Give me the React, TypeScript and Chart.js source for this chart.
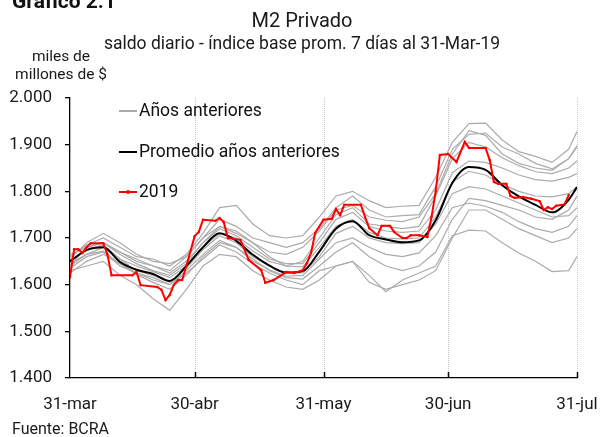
import { useEffect, useRef } from 'react';
import { Chart, registerables } from 'chart.js';

Chart.register(...registerables);

// ---- Data ----
const xTickDays = [0, 30, 61, 91, 122];
const xTickLabels = ['31-mar', '30-abr', '31-may', '30-jun', '31-jul'];
const yMin = 1400;
const yMax = 2000;
const yStep = 100;

// day offsets from 31-mar for the previous-years series and their average
const sampleDays = [0, 4, 8, 12, 16, 20, 24, 28, 32, 36, 40, 44, 48, 52, 56, 60, 64, 68, 72, 76, 80, 84, 88, 92, 96, 100, 104, 108, 112, 116, 120, 122];

const avgValues = [1650, 1674, 1680, 1649, 1632, 1623, 1608, 1640, 1680, 1710, 1694, 1664, 1641, 1626, 1629, 1671, 1720, 1736, 1706, 1697, 1691, 1695, 1738, 1818, 1852, 1846, 1813, 1789, 1771, 1755, 1782, 1809];

const prev1 = [1660, 1685, 1700, 1680, 1660, 1655, 1640, 1665, 1710, 1765, 1770, 1730, 1705, 1700, 1705, 1745, 1790, 1800, 1780, 1765, 1768, 1770, 1830, 1905, 1945, 1946, 1910, 1885, 1875, 1862, 1890, 1928];
const prev2 = [1655, 1690, 1710, 1690, 1665, 1650, 1645, 1660, 1700, 1740, 1725, 1700, 1690, 1680, 1690, 1720, 1765, 1790, 1760, 1745, 1748, 1750, 1810, 1890, 1922, 1925, 1895, 1880, 1860, 1848, 1870, 1898];
const prev3 = [1640, 1680, 1690, 1670, 1655, 1640, 1625, 1650, 1690, 1725, 1715, 1690, 1660, 1640, 1650, 1700, 1750, 1765, 1730, 1725, 1720, 1725, 1790, 1870, 1905, 1895, 1872, 1855, 1842, 1838, 1850, 1865];
const prev4 = [1665, 1680, 1690, 1665, 1645, 1630, 1620, 1645, 1690, 1720, 1705, 1680, 1655, 1645, 1645, 1690, 1740, 1755, 1725, 1715, 1712, 1715, 1760, 1840, 1865, 1862, 1850, 1835, 1825, 1822, 1830, 1838];
const prev5 = [1650, 1675, 1685, 1655, 1640, 1628, 1615, 1640, 1680, 1710, 1700, 1672, 1650, 1640, 1638, 1680, 1725, 1740, 1712, 1700, 1698, 1700, 1745, 1820, 1843, 1835, 1815, 1800, 1790, 1788, 1795, 1810];
const prev6 = [1645, 1665, 1680, 1655, 1630, 1620, 1605, 1635, 1675, 1705, 1690, 1660, 1640, 1625, 1625, 1660, 1710, 1725, 1700, 1690, 1688, 1690, 1730, 1795, 1810, 1805, 1790, 1775, 1760, 1745, 1748, 1765];
const prev7 = [1635, 1660, 1670, 1640, 1625, 1615, 1600, 1630, 1665, 1695, 1680, 1650, 1632, 1618, 1620, 1655, 1690, 1700, 1680, 1665, 1660, 1668, 1705, 1765, 1775, 1768, 1755, 1735, 1720, 1712, 1725, 1748];
const prev8 = [1625, 1650, 1665, 1645, 1625, 1610, 1600, 1625, 1655, 1685, 1670, 1645, 1625, 1610, 1600, 1630, 1640, 1650, 1620, 1585, 1610, 1625, 1640, 1705, 1717, 1715, 1690, 1668, 1650, 1628, 1630, 1660];
const prev9 = [1630, 1640, 1650, 1620, 1600, 1570, 1545, 1590, 1640, 1665, 1660, 1630, 1610, 1595, 1590, 1610, 1640, 1650, 1605, 1590, 1600, 1610, 1630, 1700, 1760, 1760, 1740, 1720, 1705, 1690, 1700, 1720];
const prev10 = [1660, 1685, 1690, 1670, 1650, 1640, 1630, 1660, 1700, 1725, 1710, 1690, 1670, 1665, 1680, 1715, 1760, 1770, 1745, 1738, 1735, 1745, 1795, 1880, 1930, 1920, 1880, 1860, 1850, 1845, 1870, 1895];
const prev11 = [1640, 1665, 1672, 1645, 1622, 1605, 1590, 1620, 1660, 1690, 1680, 1655, 1630, 1615, 1612, 1640, 1670, 1690, 1660, 1640, 1630, 1640, 1670, 1740, 1785, 1780, 1770, 1760, 1745, 1740, 1760, 1790];

const prevYears = [prev1, prev2, prev3, prev4, prev5, prev6, prev7, prev8, prev9, prev10, prev11];

const redDays = [0, 1, 2, 3, 4, 5, 8, 9, 10, 15, 16, 17, 21, 22, 23, 24, 25, 26, 27, 28, 30, 31, 32, 35, 36, 37, 38, 41, 43, 46, 47, 49, 52, 54, 56, 57, 58, 59, 61, 63, 64, 65, 66, 70, 71, 72, 74, 75, 77, 78, 80, 81, 82, 84, 86, 87, 88, 89, 91, 93, 95, 96, 100, 101, 102, 103, 105, 106, 107, 109, 111, 113, 114, 115, 116, 117, 119, 120];
const redValues = [1616, 1676, 1676, 1668, 1680, 1689, 1689, 1665, 1620, 1620, 1627, 1599, 1595, 1589, 1567, 1578, 1600, 1610, 1610, 1640, 1704, 1713, 1739, 1737, 1743, 1734, 1700, 1696, 1653, 1631, 1604, 1610, 1627, 1625, 1631, 1646, 1668, 1711, 1739, 1741, 1762, 1749, 1771, 1771, 1745, 1721, 1706, 1726, 1726, 1713, 1700, 1700, 1706, 1706, 1702, 1745, 1800, 1878, 1880, 1863, 1906, 1893, 1893, 1867, 1820, 1816, 1816, 1790, 1786, 1788, 1784, 1779, 1760, 1766, 1762, 1769, 1772, 1792];

// ---- Styling ----
const GRAY = '#ababab';
const BLACK = '#000000';
const RED = '#ff0000';
const FONT = 'Roboto, "Noto Sans", sans-serif';

const pair = (days: number[], vals: number[]) => days.map((d, i) => ({ x: d, y: vals[i] }));

const fmt = (v: number) => {
  const n = Math.round(v);
  const th = Math.floor(n / 1000);
  const rest = String(n % 1000).padStart(3, '0');
  return `${th}.${rest}`;
};

const decorPlugin = {
  id: 'decor',
  beforeDatasetsDraw(chart: any) {
    const { ctx, chartArea, scales } = chart;
    const xs = scales.x;
    ctx.save();
    ctx.strokeStyle = '#c4c4c4';
    ctx.lineWidth = 1;
    ctx.setLineDash([1, 1]);
    xTickDays.forEach((d) => {
      if (d === 0) return;
      const px = Math.round(xs.getPixelForValue(d)) + 0.5;
      ctx.beginPath();
      ctx.moveTo(px, chartArea.top);
      ctx.lineTo(px, chartArea.bottom);
      ctx.stroke();
    });
    ctx.restore();
  },
  afterDraw(chart: any) {
    const { ctx, chartArea, scales } = chart;
    const xs = scales.x;
    ctx.save();
    ctx.strokeStyle = '#000';
    ctx.lineWidth = 1.5;
    xTickDays.forEach((d) => {
      if (d === 0) return;
      const px = Math.round(xs.getPixelForValue(d)) + 0.5;
      ctx.beginPath();
      ctx.moveTo(px, chartArea.bottom);
      ctx.lineTo(px, chartArea.bottom - 6);
      ctx.stroke();
    });
    ctx.restore();
  },
};

function M2Chart() {
  const ref = useRef<HTMLCanvasElement | null>(null);

  useEffect(() => {
    if (!ref.current) return;
    const datasets: any[] = [
      {
        label: '2019',
        data: pair(redDays, redValues),
        borderColor: RED,
        backgroundColor: RED,
        borderWidth: 2,
        pointRadius: 1.2,
        pointBorderWidth: 0,
        pointBackgroundColor: RED,
        tension: 0,
        order: 0,
      },
      {
        label: 'Promedio años anteriores',
        data: pair(sampleDays, avgValues),
        borderColor: BLACK,
        borderWidth: 2,
        pointRadius: 0,
        cubicInterpolationMode: 'monotone',
        order: 1,
      },
      ...prevYears.map((vals, i) => ({
        label: i === 0 ? 'Años anteriores' : `Años anteriores ${i + 1}`,
        data: pair(sampleDays, vals),
        borderColor: GRAY,
        borderWidth: 1.2,
        pointRadius: 0,
        tension: 0,
        order: 2,
      })),
    ];

    const chart = new Chart(ref.current, {
      type: 'line',
      data: { datasets },
      plugins: [decorPlugin],
      options: {
        animation: false,
        responsive: false,
        maintainAspectRatio: false,
        devicePixelRatio: 1,
        layout: { padding: { top: 98, right: 23, left: 0, bottom: 0 } },
        plugins: {
          legend: { display: false },
          tooltip: { enabled: false },
          title: { display: false },
        },
        scales: {
          x: {
            type: 'linear',
            min: 0,
            max: 122,
            afterBuildTicks: (scale: any) => {
              scale.ticks = xTickDays.map((v) => ({ value: v }));
            },
            afterFit: (scale: any) => {
              scale.height = 59;
              scale.paddingLeft = 0;
              scale.paddingRight = 0;
            },
            grid: { display: false },
            border: { display: true, color: '#000', width: 1.3 },
            ticks: {
              autoSkip: false,
              maxRotation: 0,
              padding: 9,
              color: '#1a1a1a',
              font: { family: FONT, size: 17 },
              callback: (v: any) => {
                const i = xTickDays.indexOf(Number(v));
                return i >= 0 ? xTickLabels[i] : '';
              },
            },
          },
          y: {
            min: yMin,
            max: yMax,
            afterFit: (scale: any) => {
              scale.width = 70;
              scale.paddingTop = 0;
              scale.paddingBottom = 0;
            },
            grid: {
              display: true,
              drawOnChartArea: false,
              drawTicks: true,
              tickLength: 5,
              color: '#000',
              lineWidth: 1.3,
            },
            border: { display: true, color: '#000', width: 1.3 },
            ticks: {
              stepSize: yStep,
              padding: 13,
              color: '#1a1a1a',
              font: { family: FONT, size: 17 },
              callback: (v: any) => fmt(Number(v)),
            },
          },
        },
      } as any,
    });
    return () => chart.destroy();
  }, []);

  return <canvas ref={ref} width={600} height={437} style={{ position: 'absolute', left: 0, top: 0, width: 600, height: 437 }} />;
}

const txt = (extra: any) => ({
  position: 'absolute' as const,
  fontFamily: FONT,
  color: '#1a1a1a',
  lineHeight: 1,
  whiteSpace: 'nowrap' as const,
  ...extra,
});

function LegendRow({ top, color, label, dot }: { top: number; color: string; label: string; dot?: boolean }) {
  return (
    <>
      <div style={{ position: 'absolute', left: 119, top: top - 1, width: 18, height: 2, background: color }} />
      {dot && <div style={{ position: 'absolute', left: 126, top: top - 2, width: 4, height: 4, borderRadius: 2, background: color }} />}
      <div style={txt({ left: 139, top: top, transform: 'translateY(-50%)', fontSize: 17.5, color: '#111' })}>{label}</div>
    </>
  );
}

export default function App() {
  return (
    <div style={{ position: 'absolute', left: 0, top: 0, width: 600, height: 437, overflow: 'hidden', background: '#fff' }}>
      <M2Chart />
      <div style={txt({ left: 12, top: -9, fontSize: 21, fontWeight: 700, color: '#111' })}>Gráfico 2.1</div>
      <div style={txt({ left: 302, top: 20, transform: 'translate(-50%,-50%)', fontSize: 20 })}>M2 Privado</div>
      <div style={txt({ left: 302, top: 44, transform: 'translate(-50%,-50%)', fontSize: 17.5 })}>saldo diario - índice base prom. 7 días al 31-Mar-19</div>
      <div style={txt({ left: 61, top: 57, transform: 'translate(-50%,-50%)', fontSize: 15.5 })}>miles de</div>
      <div style={txt({ left: 61, top: 75, transform: 'translate(-50%,-50%)', fontSize: 15.5 })}>millones de $</div>
      <LegendRow top={111} color={GRAY} label="Años anteriores" />
      <LegendRow top={152} color={BLACK} label="Promedio años anteriores" />
      <LegendRow top={192} color={RED} label="2019" dot />
      <div style={txt({ left: 12, top: 429, transform: 'translateY(-50%)', fontSize: 16 })}>Fuente: BCRA</div>
    </div>
  );
}
